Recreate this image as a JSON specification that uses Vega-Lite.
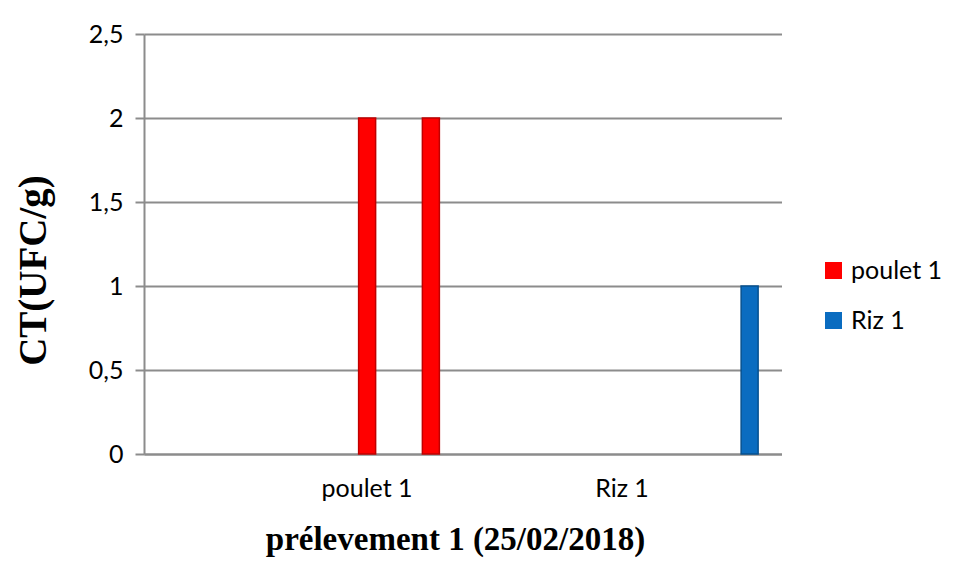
{
  "$schema": "https://vega.github.io/schema/vega-lite/v6.json",
  "width": 637.5,
  "height": 420,
  "autosize": {"type": "none"},
  "padding": {"left": 144, "top": 34, "right": 174, "bottom": 123},
  "background": "white",
  "data": {
    "values": [
      {"produit": "poulet 1", "essai": "essai 2", "echantillon": "poulet 1", "CT": 2},
      {"produit": "poulet 1", "essai": "essai 3", "echantillon": "poulet 1", "CT": 2},
      {"produit": "Riz 1", "essai": "essai 4", "echantillon": "Riz 1", "CT": 1}
    ]
  },
  "mark": {"type": "bar", "strokeWidth": 1.5},
  "encoding": {
    "x": {
      "field": "produit",
      "type": "nominal",
      "sort": ["poulet 1", "Riz 1"],
      "scale": {"paddingInner": 0, "paddingOuter": 0.25, "align": 1},
      "axis": {
        "title": "prélevement 1 (25/02/2018)",
        "labelAngle": 0,
        "labelOffset": -32,
        "ticks": false,
        "domainColor": "#8c8c8c",
        "domainWidth": 2,
        "labelFont": "Lato",
        "labelFontSize": 25,
        "labelColor": "#000000",
        "labelPadding": 22,
        "titleFont": "Liberation Serif",
        "titleFontSize": 33,
        "titleFontWeight": "bold",
        "titleColor": "#000000",
        "titlePadding": 22,
        "titleX": 311
      }
    },
    "xOffset": {
      "field": "essai",
      "type": "nominal",
      "scale": {
        "domain": ["essai 1", "essai 2", "essai 3", "essai 4"],
        "paddingInner": 0.7333,
        "paddingOuter": 0.3667
      }
    },
    "y": {
      "field": "CT",
      "type": "quantitative",
      "scale": {"domain": [0, 2.5], "nice": false},
      "axis": {
        "title": "CT(UFC/g)",
        "values": [0, 0.5, 1, 1.5, 2, 2.5],
        "labelExpr": "replace(format(datum.value, '~g'), '.', ',')",
        "grid": true,
        "gridColor": "#8c8c8c",
        "gridWidth": 2,
        "domainColor": "#8c8c8c",
        "domainWidth": 2,
        "tickColor": "#8c8c8c",
        "tickWidth": 2,
        "tickSize": 9,
        "labelFont": "Lato",
        "labelFontSize": 25,
        "labelColor": "#000000",
        "labelPadding": 12,
        "titleFont": "Liberation Serif",
        "titleFontSize": 39,
        "titleFontWeight": "bold",
        "titleColor": "#000000",
        "titleX": -91,
        "titleY": 236
      }
    },
    "color": {
      "field": "echantillon",
      "type": "nominal",
      "scale": {"domain": ["poulet 1", "Riz 1"], "range": ["#ff0000", "#0a6cc0"]},
      "legend": {
        "title": null,
        "orient": "none",
        "legendX": 677,
        "legendY": 224,
        "symbolType": "square",
        "symbolSize": 289,
        "symbolStrokeWidth": 0,
        "labelFont": "Lato",
        "labelFontSize": 25,
        "labelColor": "#000000",
        "labelOffset": 5,
        "rowPadding": 24,
        "padding": 0
      }
    },
    "stroke": {
      "field": "echantillon",
      "type": "nominal",
      "scale": {"domain": ["poulet 1", "Riz 1"], "range": ["#c00000", "#06508f"]},
      "legend": null
    }
  },
  "config": {"view": {"stroke": null}}
}
